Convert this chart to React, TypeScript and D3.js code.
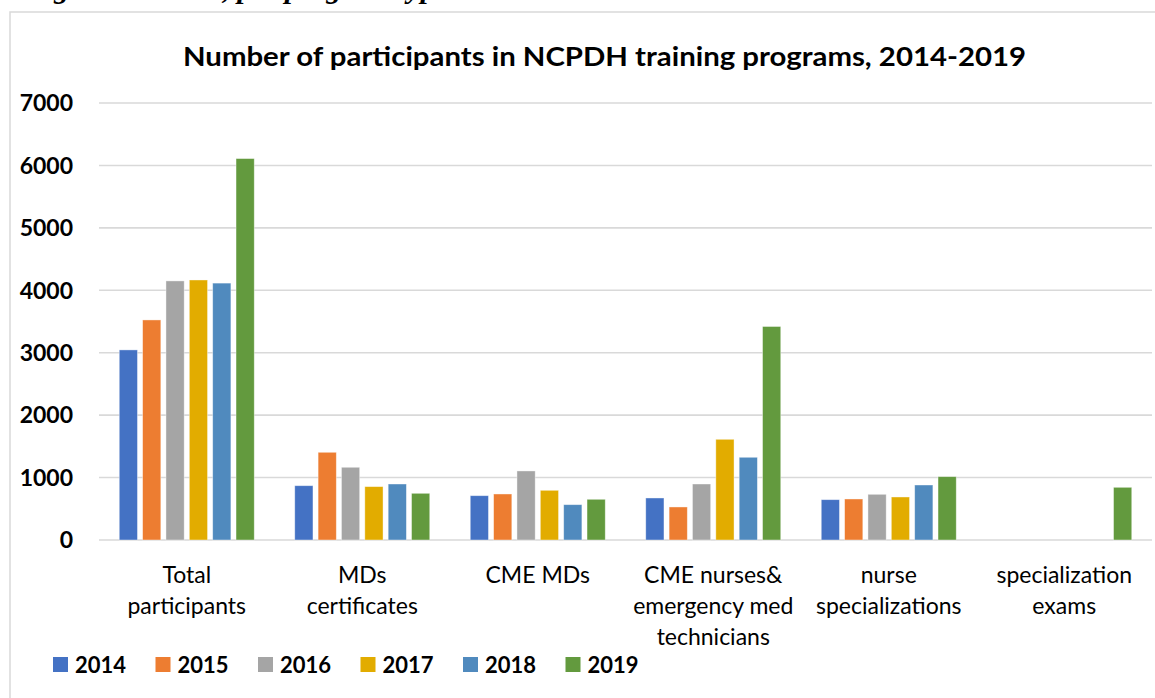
import React from 'react';
import * as d3 from 'd3';

// chart data
const categories = [
  'Total\nparticipants',
  'MDs\ncertificates',
  'CME MDs',
  'CME nurses&\nemergency med\ntechnicians',
  'nurse\nspecializations',
  'specialization\nexams',
];
const years = ['2014', '2015', '2016', '2017', '2018', '2019'];
const values2014 = [3045, 870, 710, 673, 646, 0];
const values2015 = [3525, 1405, 737, 529, 657, 0];
const values2016 = [4150, 1165, 1106, 897, 732, 0];
const values2017 = [4165, 855, 796, 1613, 689, 0];
const values2018 = [4115, 897, 566, 1325, 881, 0];
const values2019 = [6110, 748, 652, 3420, 1015, 844];
const yTicks = [0, 1000, 2000, 3000, 4000, 5000, 6000, 7000];
const colors = ['#4472C4', '#ED7D31', '#A5A5A5', '#E2AC00', '#508ABE', '#639A3E'];

const title = 'Number of participants in NCPDH training programs, 2014-2019';
const caption = 'Figure 4. Totals, per program type';

const series = [values2014, values2015, values2016, values2017, values2018, values2019];

const W = 1155;
const H = 698;
const FONT = 'Lato, "Open Sans", sans-serif';

const App = () => {
  const x = d3.scaleBand().domain(categories).range([99, 1152]).padding(0);
  const xYear = d3
    .scaleBand()
    .domain(years)
    .range([20.25, x.bandwidth() - 20.25])
    .paddingInner(0.22)
    .paddingOuter(0);
  const y = d3.scaleLinear().domain([0, 7000]).range([540, 103]);

  return (
    <svg
      width={W}
      height={H}
      style={{ position: 'absolute', left: 0, top: 0, background: '#fff' }}
    >
      {/* caption above the chart, cropped by the page edge as in the source */}
      <text
        x={26}
        y={-2}
        fontFamily='"Liberation Serif", serif'
        fontStyle="italic"
        fontWeight="bold"
        fontSize={30}
        fill="#000"
      >
        {caption}
      </text>

      {/* chart frame */}
      <rect x={10} y={12} width={1200} height={720} fill="#fff" stroke="#d9d9d9" strokeWidth={1.5} />

      <text
        x={604.5}
        y={66}
        textAnchor="middle"
        fontFamily={FONT}
        fontWeight="bold"
        fontSize={26}
        textLength={843}
        lengthAdjust="spacingAndGlyphs"
        fill="#000"
      >
        {title}
      </text>

      {/* gridlines + y labels */}
      {yTicks.map((t) => (
        <g key={t}>
          <line x1={99} x2={1152} y1={y(t)} y2={y(t)} stroke="#d9d9d9" strokeWidth={1.6} />
          <text
            x={73}
            y={y(t)}
            dy="0.36em"
            textAnchor="end"
            fontFamily={FONT}
            fontWeight="bold"
            fontSize={23}
            fill="#000"
          >
            {t}
          </text>
        </g>
      ))}

      {/* bars */}
      {series.map((vals, si) =>
        vals.map((v, ci) =>
          v > 0 ? (
            <rect
              key={`${si}-${ci}`}
              x={x(categories[ci]) + xYear(years[si])}
              y={y(v)}
              width={xYear.bandwidth()}
              height={y(0) - y(v)}
              fill={colors[si]}
              stroke="#fff"
              strokeOpacity={0.5}
              strokeWidth={0.8}
            />
          ) : null
        )
      )}

      {/* category labels */}
      {categories.map((c) => (
        <text
          key={c}
          textAnchor="middle"
          fontFamily={FONT}
          fontSize={23}
          fill="#000"
        >
          {c.split('\n').map((line, i) => (
            <tspan key={i} x={x(c) + x.bandwidth() / 2} y={583 + i * 31}>
              {line}
            </tspan>
          ))}
        </text>
      ))}

      {/* legend */}
      {years.map((yr, i) => (
        <g key={yr} transform={`translate(${53 + i * 102.5},657)`}>
          <rect width={15} height={15} fill={colors[i]} />
          <text x={22} y={16} fontFamily={FONT} fontWeight="bold" fontSize={22} fill="#000">
            {yr}
          </text>
        </g>
      ))}
    </svg>
  );
};

export default App;
